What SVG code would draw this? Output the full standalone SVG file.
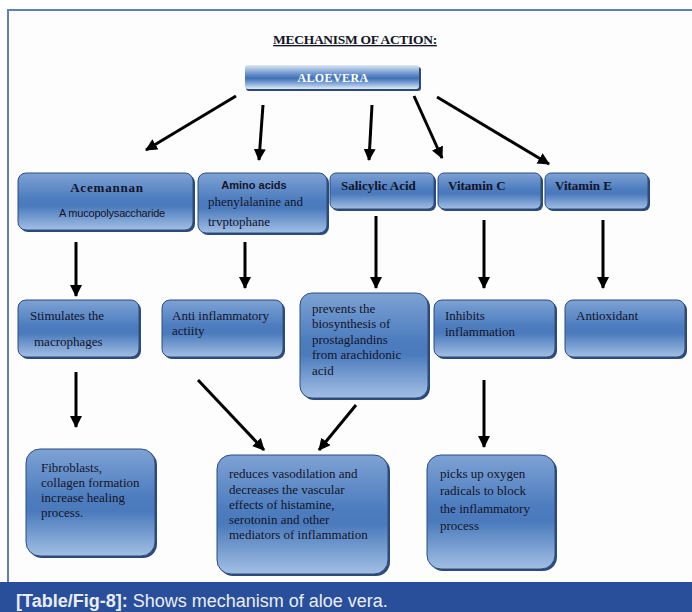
<svg xmlns="http://www.w3.org/2000/svg" width="692" height="612" viewBox="0 0 692 612">
<defs>
<linearGradient id="gBox" x1="0" y1="0" x2="0" y2="1">
<stop offset="0" stop-color="#7ea2d4"/>
<stop offset="0.45" stop-color="#4d7dbf"/>
<stop offset="0.58" stop-color="#4a7abc"/>
<stop offset="1" stop-color="#a2bfe4"/>
</linearGradient>
<linearGradient id="gAloe" x1="0" y1="0" x2="0" y2="1">
<stop offset="0" stop-color="#dfe8f6"/>
<stop offset="0.3" stop-color="#7fa2d4"/>
<stop offset="0.55" stop-color="#3f6fb5"/>
<stop offset="0.8" stop-color="#8fb0dc"/>
<stop offset="1" stop-color="#e2eaf6"/>
</linearGradient>
<marker id="ah" markerUnits="userSpaceOnUse" markerWidth="12" markerHeight="12" viewBox="0 0 12 12" refX="11" refY="6" orient="auto">
<path d="M0,0 L12,6 L0,12 Z" fill="#000"/>
</marker>
</defs>
<style>
.box{fill:url(#gBox);stroke:#2c4d80;stroke-width:1}
.sh{fill:#2c4a78}
.t{font-family:"Liberation Serif","Times New Roman",serif;font-size:13px;fill:#141428}
.tb{font-family:"Liberation Serif","Times New Roman",serif;font-size:13px;font-weight:bold;fill:#141428}
.ts{font-family:"Liberation Sans",Arial,sans-serif;font-size:11px;fill:#141428}
.ar{stroke:#000;stroke-width:3;fill:none;marker-end:url(#ah)}
</style>
<rect x="0" y="0" width="692" height="612" fill="#ffffff"/>
<rect x="8" y="10" width="700" height="580" fill="#fdfdfd" stroke="#5f7fb8" stroke-width="2"/>
<rect x="0" y="582" width="692" height="30" fill="#294f9b"/>
<text x="16" y="607" font-family="'Liberation Sans',Arial,sans-serif" font-size="18" fill="#e9edf6"><tspan font-weight="bold">[Table/Fig-8]:</tspan> Shows mechanism of aloe vera.</text>

<g id="title">
<text x="355" y="44" text-anchor="middle" font-family="'Liberation Serif','Times New Roman',serif" font-size="13.5" font-weight="bold" fill="#141428" text-decoration="underline" letter-spacing="-0.3">MECHANISM OF ACTION:</text>
</g>

<g id="aloevera">
<rect x="246" y="67" width="175" height="24" rx="3" fill="#2c4a78"/>
<rect x="245" y="65" width="174" height="24" rx="3" fill="url(#gAloe)"/>
<text x="333" y="82" text-anchor="middle" font-family="'Liberation Serif','Times New Roman',serif" font-size="12" font-weight="bold" fill="#ffffff" letter-spacing="0.4">ALOEVERA</text>
</g>

<g id="acemannan">
<rect x="20" y="175" width="175" height="57" rx="8" class="sh"/>
<rect x="18" y="173" width="175" height="57" rx="8" class="box"/>
<text x="107" y="192" text-anchor="middle" class="tb" font-size="15" letter-spacing="0.8">Acemannan</text>
<text x="112" y="217" text-anchor="middle" class="ts" font-size="11.5" letter-spacing="-0.2">A mucopolysaccharide</text>
</g>
<g id="amino">
<rect x="200" y="175" width="129" height="60" rx="8" class="sh"/>
<rect x="198" y="173" width="129" height="60" rx="8" class="box"/>
<text x="254" y="189" text-anchor="middle" class="ts" font-weight="bold" font-size="11.5">Amino acids</text>
<text x="208" y="206" class="t" font-size="13.5">phenylalanine and</text>
<text x="208" y="226" class="t" font-size="13.5">trvptophane</text>
</g>
<g id="salicylic">
<rect x="332" y="175" width="104" height="36" rx="6" class="sh"/>
<rect x="330" y="173" width="104" height="36" rx="6" class="box"/>
<text x="341" y="190" class="tb">Salicylic Acid</text>
</g>
<g id="vitc">
<rect x="440" y="175" width="103" height="36" rx="6" class="sh"/>
<rect x="438" y="173" width="103" height="36" rx="6" class="box"/>
<text x="448" y="190" class="tb">Vitamin C</text>
</g>
<g id="vite">
<rect x="547" y="175" width="103" height="36" rx="6" class="sh"/>
<rect x="545" y="173" width="103" height="36" rx="6" class="box"/>
<text x="555" y="190" class="tb">Vitamin E</text>
</g>

<g id="stimulates">
<rect x="20" y="302" width="121" height="57" rx="8" class="sh"/>
<rect x="18" y="300" width="121" height="57" rx="8" class="box"/>
<text x="30" y="320" class="t">Stimulates the</text>
<text x="34" y="346" class="t">macrophages</text>
</g>
<g id="antiinfl">
<rect x="164" y="302" width="121" height="57" rx="8" class="sh"/>
<rect x="162" y="300" width="121" height="57" rx="8" class="box"/>
<text x="172" y="320" class="t">Anti inflammatory</text>
<text x="172" y="335" class="t">actiity</text>
</g>
<g id="prevents">
<rect x="302" y="295" width="128" height="105" rx="12" class="sh"/>
<rect x="300" y="293" width="128" height="105" rx="12" class="box"/>
<text x="312" y="313" class="t">prevents the</text>
<text x="312" y="328" class="t">biosynthesis of</text>
<text x="312" y="344" class="t">prostaglandins</text>
<text x="312" y="359" class="t">from arachidonic</text>
<text x="312" y="375" class="t">acid</text>
</g>
<g id="inhibits">
<rect x="436" y="302" width="121" height="57" rx="8" class="sh"/>
<rect x="434" y="300" width="121" height="57" rx="8" class="box"/>
<text x="445" y="320" class="t">Inhibits</text>
<text x="445" y="336" class="t">inflammation</text>
</g>
<g id="antioxidant">
<rect x="567" y="302" width="120" height="57" rx="8" class="sh"/>
<rect x="565" y="300" width="120" height="57" rx="8" class="box"/>
<text x="576" y="320" class="t">Antioxidant</text>
</g>

<g id="fibroblasts">
<rect x="28" y="451" width="129" height="107" rx="14" class="sh"/>
<rect x="26" y="449" width="129" height="107" rx="14" class="box"/>
<text x="41" y="472" class="t">Fibroblasts,</text>
<text x="41" y="487" class="t">collagen formation</text>
<text x="41" y="502" class="t">increase healing</text>
<text x="41" y="517" class="t">process.</text>
</g>
<g id="reduces">
<rect x="219" y="457" width="171" height="119" rx="14" class="sh"/>
<rect x="217" y="455" width="171" height="119" rx="14" class="box"/>
<text x="229" y="478" class="t">reduces vasodilation and</text>
<text x="229" y="494" class="t">decreases the vascular</text>
<text x="229" y="509" class="t">effects of histamine,</text>
<text x="229" y="524" class="t">serotonin and other</text>
<text x="229" y="539" class="t">mediators of inflammation</text>
</g>
<g id="picks">
<rect x="429" y="457" width="128" height="114" rx="14" class="sh"/>
<rect x="427" y="455" width="128" height="114" rx="14" class="box"/>
<text x="440" y="478" class="t">picks up oxygen</text>
<text x="440" y="495" class="t">radicals to block</text>
<text x="440" y="513" class="t">the inflammatory</text>
<text x="440" y="530" class="t">process</text>
</g>

<g id="connectors">
<line x1="236" y1="96" x2="146" y2="150" class="ar"/>
<line x1="263" y1="105" x2="259" y2="160" class="ar"/>
<line x1="372" y1="105" x2="369" y2="160" class="ar"/>
<line x1="414" y1="96" x2="442" y2="158" class="ar"/>
<line x1="437" y1="97" x2="549" y2="164" class="ar"/>
<line x1="76" y1="242" x2="76" y2="296" class="ar" stroke-width="3.5"/>
<line x1="245" y1="242" x2="245" y2="288" class="ar"/>
<line x1="376" y1="216" x2="376" y2="288" class="ar"/>
<line x1="484" y1="220" x2="484" y2="288" class="ar" stroke-width="3.5"/>
<line x1="603" y1="220" x2="603" y2="288" class="ar" stroke-width="3.5"/>
<line x1="76" y1="372" x2="76" y2="427" class="ar" stroke-width="3.5"/>
<line x1="198" y1="380" x2="264" y2="450" class="ar"/>
<line x1="356" y1="405" x2="319" y2="450" class="ar"/>
<line x1="484" y1="380" x2="484" y2="447" class="ar" stroke-width="3.5"/>
</g>
</svg>
